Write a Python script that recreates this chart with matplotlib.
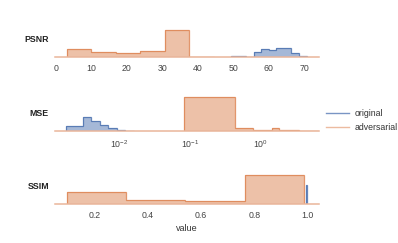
import matplotlib
matplotlib.use("Agg")
import matplotlib.pyplot as plt
from matplotlib.lines import Line2D

plt.rcParams['font.family'] = ['Liberation Sans', 'DejaVu Sans']
plt.rcParams['mathtext.fontset'] = 'custom'
plt.rcParams['mathtext.rm'] = 'Liberation Sans'
plt.rcParams['mathtext.it'] = 'Liberation Sans:italic'

BLUE = '#4c72b0'
ORANGE = '#dd8452'

# --- PSNR ---
psnr_adv_edges = [3.0, 9.9, 16.85, 23.8, 30.8, 37.6, 44.5]
psnr_adv_vals = [8.0, 5.0, 4.0, 6.3, 27.0, 0.3]
psnr_org_edges = [49.4, 51.53, 53.66, 55.79, 57.92, 60.05, 62.18, 64.31, 66.44, 68.57, 70.7]
psnr_org_vals = [1.0, 1.0, 0.7, 5.0, 8.0, 7.0, 9.6, 9.6, 4.0, 1.0]

# --- MSE (log x axis) ---
mse_org_edges = [0.00174, 0.00229, 0.00302, 0.00398, 0.00525, 0.00692, 0.00912, 0.0120, 0.0158]
mse_org_vals = [5.6, 5.6, 14.0, 10.0, 6.0, 3.3, 1.6, 0.6]
mse_adv_edges = [0.083, 0.428, 0.773, 1.118, 1.463, 1.808, 2.153, 2.498, 2.843, 3.188,
                 3.533, 3.878, 4.223, 4.568, 4.913, 5.258, 5.603, 5.948, 6.293, 6.638]
mse_adv_vals = [34.0, 3.0, 1.0, 1.0, 3.0, 1.7, 1.5, 1.3, 1.1, 1.0,
                0.8, 0.7, 0.6, 0.5, 0.4, 0.3, 0.25, 0.2, 0.1]

# --- SSIM ---
ssim_adv_edges = [0.0935, 0.317, 0.541, 0.765, 0.989]
ssim_adv_vals = [12.7, 4.0, 3.0, 29.3]
ssim_org_edges = [0.994, 1.0]
ssim_org_vals = [19.3]

panels = [
    ("PSNR", psnr_org_edges, psnr_org_vals, psnr_adv_edges, psnr_adv_vals),
    ("MSE", mse_org_edges, mse_org_vals, mse_adv_edges, mse_adv_vals),
    ("SSIM", ssim_org_edges, ssim_org_vals, ssim_adv_edges, ssim_adv_vals),
]

fig = plt.figure(figsize=(3.98, 2.43), dpi=100)
bottoms = [1 - 57.3 / 243, 1 - 131.3 / 243, 1 - 204.3 / 243]
left, width, height = 55 / 398, 264 / 398, 36 / 243

axes = []
for (name, oe, ov, ae, av), b in zip(panels, bottoms):
    ax = fig.add_axes([left, b, width, height])
    ax.stairs(av, ae, fill=True, color=ORANGE, alpha=0.5, lw=0)
    ax.stairs(av, ae, color=ORANGE, lw=0.9, alpha=0.85)
    ax.stairs(ov, oe, fill=True, color=BLUE, alpha=0.5, lw=0)
    ax.stairs(ov, oe, color=BLUE, lw=0.9, alpha=0.85)
    ax.set_ylim(0, 36)
    ax.set_yticks([])
    for s in ['left', 'right', 'top']:
        ax.spines[s].set_visible(False)
    ax.spines['bottom'].set_color('#e9b59a')
    ax.spines['bottom'].set_linewidth(1.1)
    ax.tick_params(axis='x', length=0, pad=5, labelsize=6.3, labelcolor='#444444')
    ax.tick_params(axis='x', which='minor', length=0)
    ax.set_ylabel(name, rotation=0, ha='right', va='center', fontsize=6.3,
                  fontweight='bold', color='#222222')
    ax.yaxis.set_label_coords(-6 / 264, 0.5)
    ax.patch.set_visible(False)
    axes.append(ax)

axes[0].set_xlim(-0.28, 74.2)
axes[0].set_xticks([0, 10, 20, 30, 40, 50, 60, 70])

axes[1].set_xscale('log')
axes[1].set_xlim(10 ** -2.915, 10 ** 0.83)
axes[1].set_xticks([0.01, 0.1, 1.0])

axes[2].set_xlim(0.0494, 1.044)
axes[2].set_xticks([0.2, 0.4, 0.6, 0.8, 1.0])
axes[2].set_xlabel("value", fontsize=6.5, color='#333333', labelpad=3)

handles = [Line2D([], [], color=BLUE, lw=1, alpha=0.75),
           Line2D([], [], color=ORANGE, lw=1, alpha=0.55)]
fig.legend(handles, ["original", "adversarial"], loc='center left',
           bbox_to_anchor=(318 / 398, 1 - 120.5 / 243), frameon=False,
           fontsize=6.3, handlelength=2.6, handletextpad=0.7, labelspacing=0.55,
           labelcolor='#333333')

fig.savefig("out.png", dpi=100)
